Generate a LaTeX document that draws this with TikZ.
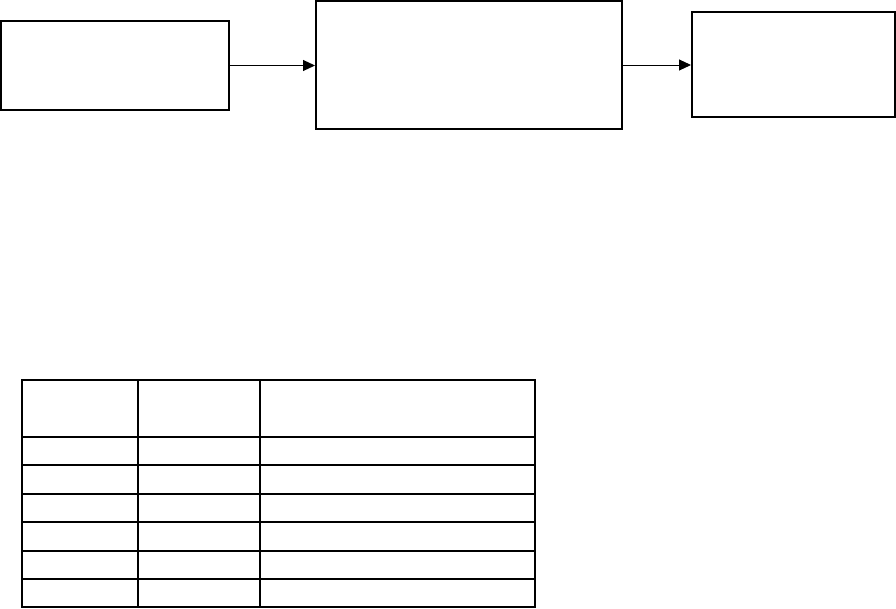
\documentclass[tikz,border=0pt]{standalone}
\usetikzlibrary{arrows.meta}
\begin{document}
\begin{tikzpicture}[x=1pt,y=-1pt,
  box/.style={draw=black,line width=2pt,inner sep=0pt,fill=white},
  cell/.style={draw=black,line width=1.4pt,inner sep=0pt},
  conn/.style={line width=1pt,-{Triangle[length=12pt,width=11pt]}}]
\useasboundingbox (0,0) rectangle (896,608);
% top boxes
\node[box,minimum width=228pt,minimum height=89pt] (b1) at (115,65.5) {};
\node[box,minimum width=306pt,minimum height=128pt] (b2) at (469,65) {};
\node[box,minimum width=203pt,minimum height=105pt] (b3) at (793.5,64.5) {};
\draw[conn] (b1.east) -- (b1.east -| b2.west);
\draw[conn] (b2.east) -- (b2.east -| b3.west);
% table
\foreach \ya/\yb [count=\r] in {380/437,437/465,465/494,494/522,522/551,551/579,579/607}{
  \foreach \xa/\xb [count=\c] in {22/138,138/260,260/535}{
    \node[cell,minimum width=\xb-\xa,minimum height=\yb-\ya] (t\r\c) at ({(\xa+\xb)/2},{(\ya+\yb)/2}) {};
  }
}
\end{tikzpicture}
\end{document}
